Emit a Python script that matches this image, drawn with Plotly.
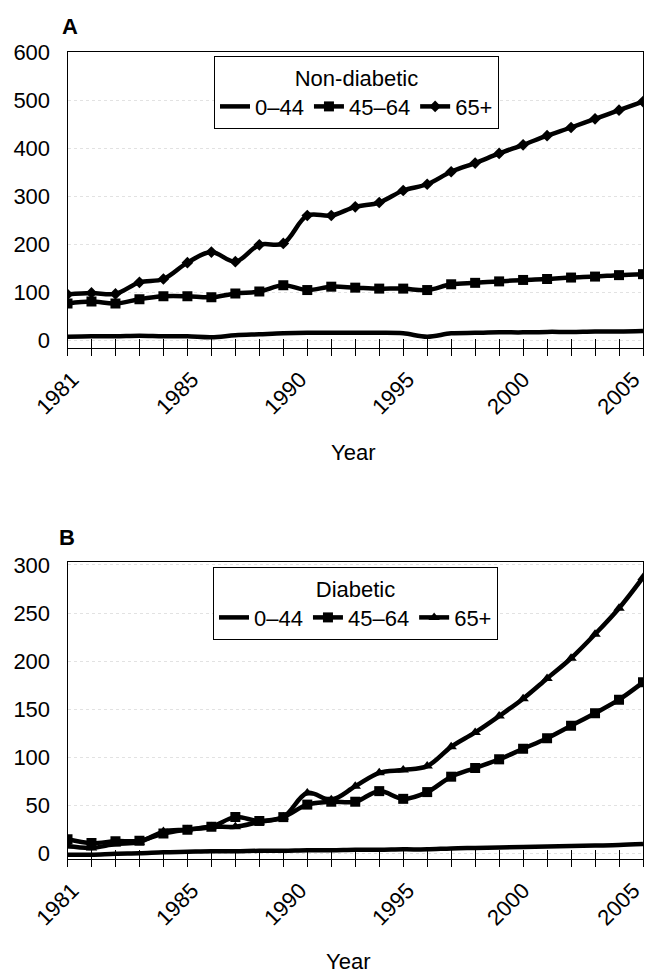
import plotly.graph_objects as go

years = list(range(1981, 2006))

# Panel A: Non-diabetic
nd_0_44 = [8, 9, 9, 10, 9, 9, 7, 11, 13, 15, 16, 16, 16, 16, 15, 8, 15, 16, 17, 17, 18, 18, 19, 19, 20]
nd_45_64 = [77, 81, 77, 86, 92, 92, 90, 98, 102, 115, 105, 112, 110, 108, 108, 105, 117, 120, 123, 126, 128, 131, 133, 136, 138]
nd_65 = [96, 99, 97, 121, 128, 162, 184, 164, 199, 202, 260, 260, 278, 287, 312, 325, 351, 369, 389, 407, 426, 443, 461, 479, 497]

# Panel B: Diabetic
d_0_44 = [-1, -1, 0, 0.5, 1.5, 2, 2.5, 2.5, 3, 3, 3.5, 3.5, 4, 4, 4.5, 4.5, 5.5, 6, 6.5, 7, 7.5, 8, 8.5, 9, 10]
d_45_64 = [15, 11, 13, 13.5, 21, 25, 28, 38, 34, 38, 51, 54, 54, 65, 57, 64, 80, 89, 98, 109, 120, 133, 146, 160, 178]
d_65 = [8, 6, 10, 12, 23, 25, 28, 28, 33, 38, 63, 56, 70, 84, 87, 91, 111, 126, 143, 161, 182, 203, 228, 255, 287]

series_names = ["0\u201344", "45\u201364", "65+"]
x_tick_labels = ["1981", "1985", "1990", "1995", "2000", "2005"]
x_tick_pos = [1981.2, 1986.2, 1990.7, 1995.2, 2000.0, 2004.6]
yA_ticks = [0, 100, 200, 300, 400, 500, 600]
yB_ticks = [0, 50, 100, 150, 200, 250, 300]

FONT = "Liberation Sans, Arial, sans-serif"
FS = 22
W, H = 645, 973

def px_x(p):
    return p / W

def px_y(p):
    return (H - p) / H

fig = go.Figure()

line = dict(color="black", width=4.5, shape="spline", smoothing=1)

def add_panel(vals, symbols, sizes, xa, ya, legend):
    for name, v, sym, sz in zip(series_names, vals, symbols, sizes):
        mode = "lines" if sym is None else "lines+markers"
        fig.add_trace(go.Scatter(
            x=years, y=v, name=name, mode=mode,
            line=line,
            marker=dict(symbol=sym or "circle", size=sz, color="black"),
            xaxis=xa, yaxis=ya, legend=legend,
        ))

add_panel([nd_0_44, nd_45_64, nd_65], [None, "square", "diamond"], [0, 10, 9], "x", "y", "legend")
add_panel([d_0_44, d_45_64, d_65], [None, "square", "triangle-up"], [0, 10, 10], "x2", "y2", "legend2")

# dummy traces for inner-tick overlay axes
fig.add_trace(go.Scatter(x=[None], y=[None], xaxis="x3", yaxis="y", showlegend=False, hoverinfo="skip"))
fig.add_trace(go.Scatter(x=[None], y=[None], xaxis="x4", yaxis="y2", showlegend=False, hoverinfo="skip"))

xdom = [px_x(67.5), px_x(643)]
domA = [px_y(348), px_y(52)]
domB = [px_y(859), px_y(562)]

def xaxis_main(anchor):
    return dict(
        domain=xdom, range=[1981, 2005], anchor=anchor,
        tickmode="array", tickvals=x_tick_pos, ticktext=x_tick_labels,
        tickangle=-45, ticks="outside", ticklen=9, tickcolor="rgba(0,0,0,0)",
        ticklabeloverflow="allow",
        tickfont=dict(family=FONT, size=FS, color="black"),
        minor=dict(tickmode="linear", tick0=1981, dtick=1, ticks="outside",
                   ticklen=7, tickcolor="black", tickwidth=1, showgrid=False),
        showline=True, linecolor="black", linewidth=1, mirror=True,
        showgrid=False, zeroline=False, automargin=False,
    )

def xaxis_inner(anchor, over):
    return dict(
        domain=xdom, range=[1981, 2005], anchor=anchor, overlaying=over,
        tickmode="linear", tick0=1981, dtick=1, ticks="inside", ticklen=9,
        tickcolor="black", tickwidth=1, showticklabels=False,
        showline=False, showgrid=False, zeroline=False, automargin=False,
    )

def yaxis(dom, rng, ticks, anchor):
    return dict(
        domain=dom, range=rng, anchor=anchor,
        tickmode="array", tickvals=ticks,
        ticks="outside", ticklen=12, tickcolor="rgba(0,0,0,0)",
        tickfont=dict(family=FONT, size=FS, color="black"),
        showline=True, linecolor="black", linewidth=1, mirror=True,
        showgrid=True, gridcolor="#e2e2e2", griddash="dot", gridwidth=1,
        zeroline=False, automargin=False,
    )

legend_common = dict(
    orientation="h", xanchor="center", yanchor="top",
    bgcolor="white", bordercolor="black", borderwidth=1,
    font=dict(family=FONT, size=FS, color="black"),
    itemwidth=30, tracegroupgap=0,
)

def ann(text, x, y):
    return dict(text=text, x=px_x(x), y=px_y(y), xref="paper", yref="paper",
                xanchor="center", yanchor="middle", showarrow=False,
                font=dict(family=FONT, size=FS, color="black"))

fig.update_layout(
    width=W, height=H,
    margin=dict(l=0, r=0, t=0, b=0),
    paper_bgcolor="white", plot_bgcolor="white",
    font=dict(family=FONT, size=FS, color="black"),
    xaxis=xaxis_main("y"),
    yaxis=yaxis(domA, [-15.5, 600], yA_ticks, "x"),
    xaxis2=xaxis_main("y2"),
    yaxis2=yaxis(domB, [-5.5, 303], yB_ticks, "x2"),
    xaxis3=xaxis_inner("y", "x"),
    xaxis4=xaxis_inner("y2", "x2"),
    legend=dict(legend_common, x=px_x(356.5), y=px_y(56),
                title=dict(text="Non-diabetic", side="top center",
                           font=dict(family=FONT, size=FS, color="black"))),
    legend2=dict(legend_common, x=px_x(355.5), y=px_y(567),
                 title=dict(text="Diabetic", side="top center",
                            font=dict(family=FONT, size=FS, color="black"))),
    showlegend=True,
    annotations=[
        ann("<b>A</b>", 70, 26),
        ann("<b>B</b>", 67, 537),
        ann("Year", 353, 452),
        ann("Year", 348, 961),
    ],
)

fig.write_html(
    "out.html",
    config={"displayModeBar": False},
    post_script="document.body.style.margin='0';document.body.style.overflow='hidden';",
)
